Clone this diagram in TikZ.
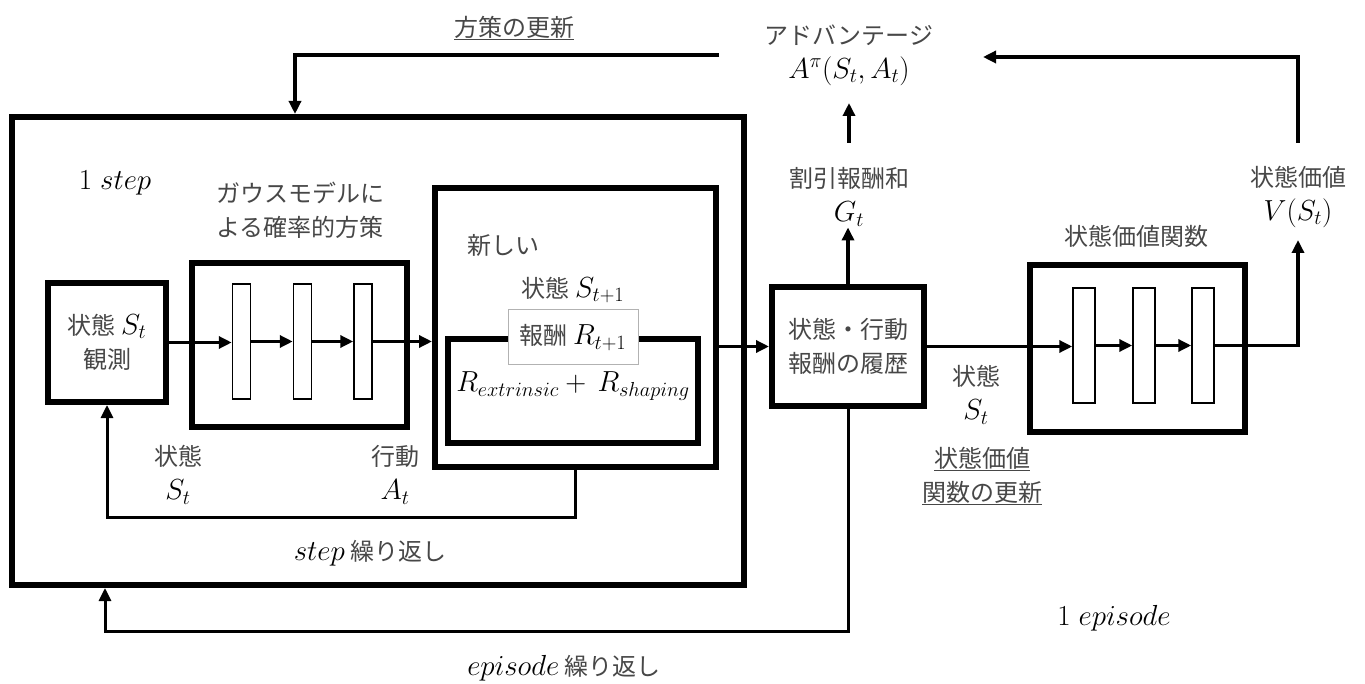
\RequirePackage{fix-cm}
\documentclass[tikz,border=0pt]{standalone}
\usepackage[no-math]{fontspec}
\setmainfont{Noto Sans CJK JP}
\usetikzlibrary{arrows.meta}
\newcommand\mth[1]{{\fontsize{29}{34}\selectfont\color{black}$#1$}}
\tikzset{
  bx/.style={draw, line width=6pt, fill=white, inner sep=0pt},
  lay/.style={draw, line width=1.5pt, fill=white, inner sep=0pt, minimum height=115pt},
  conn/.style={line width=3.5pt, -{Triangle[length=13pt,width=12pt]}},
  loopln/.style={line width=3pt},
  txt/.style={align=center, inner sep=1pt, font=\fontsize{24}{34}\selectfont, text=black!72},
}
\begin{document}
\begin{tikzpicture}[x=1pt,y=-1pt]
\useasboundingbox (0,0) rectangle (1365,684);
% big step box
\node[bx, minimum width=732pt, minimum height=468pt] (big) at (378,351) {};
% observation box
\node[bx, minimum width=118pt, minimum height=119pt, txt, inner sep=0pt] (obs) at (107,342.5) {状態 \mth{S_t}\\観測};
% policy box
\node[bx, minimum width=215pt, minimum height=164pt] (pol) at (299.5,345) {};
\node[lay, minimum width=18pt] (r1) at (241.5,341.5) {};
\node[lay, minimum width=18pt] (r2) at (302.5,341.5) {};
\node[lay, minimum width=18pt] (r3) at (363,341.5) {};
% new state box
\node[bx, minimum width=281pt, minimum height=279pt] (ns) at (575.5,327.5) {};
\node[bx, minimum width=250pt, minimum height=104pt] (rw) at (573,391) {};
\node[draw=black!30, line width=1pt, fill=white, minimum width=130pt, minimum height=55pt, txt] (rl) at (573,337.5) {報酬 \mth{R_{t+1}}};
\node[txt] (rsum) at (573,386) {\mth{R_{extrinsic}+\,R_{shaping}}};
\node[txt] (newl) at (503,245) {新しい};
\node[txt] (nsst) at (573,290) {状態 \mth{S_{t+1}}};
% history box
\node[bx, minimum width=152pt, minimum height=119pt, txt, inner sep=0pt] (hist) at (848,346.5) {状態・行動\\報酬の履歴};
% value box
\node[bx, minimum width=215pt, minimum height=167pt] (val) at (1137.5,348.5) {};
\node[lay, minimum width=22pt] (v1) at (1084,345.5) {};
\node[lay, minimum width=22pt] (v2) at (1144,345.5) {};
\node[lay, minimum width=22pt] (v3) at (1203,345.5) {};
% labels
\node[txt] (pupd) at (514,28) {\underline{方策の更新}};
\node[txt] (adv) at (849,55) {アドバンテージ\\\mth{A^{\pi}(S_t,A_t)}};
\node[txt] (gt) at (849,197) {割引報酬和\\\mth{G_t}};
\node[txt] (vlab) at (1298,197) {状態価値\\\mth{V(S_t)}};
\node[txt] (vfn) at (1136,236) {状態価値関数};
\node[txt] (onestep) at (115,183) {\mth{1\;step}};
\node[txt] (gauss) at (300,210) {ガウスモデルに\\よる確率的方策};
\node[txt] (stl) at (178,475) {状態\\\mth{S_t}};
\node[txt] (atl) at (395,475) {行動\\\mth{A_t}};
\node[txt] (steprep) at (370,553) {\mth{step} 繰り返し};
\node[txt] (eprep) at (564,668) {\mth{episode} 繰り返し};
\node[txt] (sst) at (976,395) {状態\\\mth{S_t}};
\node[txt] (vupd) at (982,476) {\underline{状態価値}\\\underline{関数の更新}};
\node[txt] (oneep) at (1114,618) {\mth{1\;episode}};
% coordinates
\coordinate (puR) at (719,55);
\coordinate (puL) at (295,55);
\coordinate (gtTop) at (849,143);
\coordinate (advBot) at (849,103);
\coordinate (vBot) at (1298,240);
\coordinate (vTop) at (1298,143);
\coordinate (vCorner) at (1298,57);
\coordinate (advR) at (983,57);
\coordinate (sl) at (575,517);
\coordinate (el) at (105,631);
% connectors
\draw[conn] (obs.east) -- (obs.east -| r1.west);
\draw[conn] (r1.east) -- (r2.west);
\draw[conn] (r2.east) -- (r3.west);
\draw[conn] (r3.east) -- (r3.east -| ns.west);
\draw[conn] (ns.east |- hist.west) -- (hist.west);
\draw[conn] (hist.east) -- (hist.east -| v1.west);
\draw[conn] (v1.east) -- (v2.west);
\draw[conn] (v2.east) -- (v3.west);
\draw[conn] (v3.east) -- (v3.east -| vBot) -- (vBot);
\draw[conn] (hist.north) -- (hist.north |- gt.south);
\draw[conn] (gtTop) -- (advBot);
\draw[conn] (vTop) -- (vCorner) -- (advR);
\draw[conn] (puR) -- (puL) -- (puL |- big.north);
\draw[loopln, -{Triangle[length=13pt,width=12pt]}] (ns.south) -- (ns.south |- sl) -- (obs.south |- sl) -- (obs.south);
\draw[loopln, -{Triangle[length=13pt,width=12pt]}] (hist.south) -- (hist.south |- el) -- (el) -- (el |- big.south);
\end{tikzpicture}
\end{document}
